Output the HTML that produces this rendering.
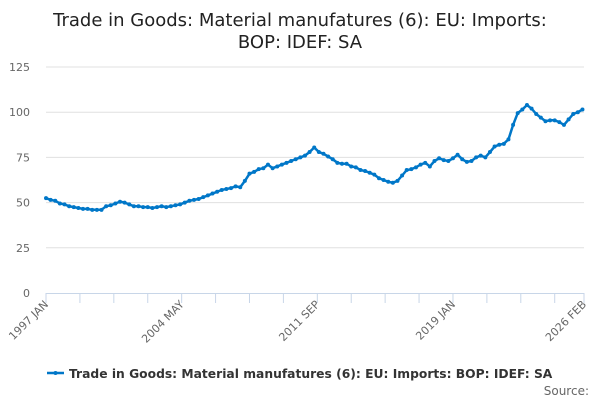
<!DOCTYPE html>
<html><head><meta charset="utf-8"><style>
body{margin:0;background:#fff;font-family:"Liberation Sans","DejaVu Sans",sans-serif}
svg text{font-family:"DejaVu Sans","Liberation Sans",sans-serif}
</style></head><body>
<svg id="chart" width="600" height="400">
<text x="300" y="26" text-anchor="middle" font-size="18" fill="#222">Trade in Goods: Material manufatures (6): EU: Imports:</text>
<text x="300" y="48" text-anchor="middle" font-size="18" fill="#222">BOP: IDEF: SA</text>
<g id="grid"></g><g id="xaxis"></g><g id="series"></g>
<g>
<line x1="47" y1="373" x2="64" y2="373" stroke="#0077c8" stroke-width="2.5"/>
<circle cx="55.5" cy="373" r="2" fill="#0077c8"/>
<text x="69" y="378" font-size="12.3" font-weight="bold" fill="#333">Trade in Goods: Material manufatures (6): EU: Imports: BOP: IDEF: SA</text>
</g>
<text x="589" y="395" text-anchor="end" font-size="12" fill="#666">Source:</text>
</svg>
<script>
const yTicks=[0,25,50,75,100,125];
const xLabels=["1997 JAN","2004 MAY","2011 SEP","2019 JAN","2026 FEB"];
const xLabelMonths=[0,88,176,264,349];
const values=[52.5,51.5,51,49.5, 49,48,47.5,47, 46.5,46.5,46,46, 46,48,48.5,49.5, 50.5,50,49,48,
48,47.5,47.5,47, 47.5,48,47.5,48, 48.5,49,50,51, 51.5,52,53,54, 55,56,57,57.5,
58,59,58.5,62, 66,67,68.5,69, 71,69,70,71, 72,73,74,75, 76,78,80.5,78,
77,75.5,74,72, 71.5,71.5,70,69.5, 68,67.5,66.5,65.5, 63.5,62.5,61.5,61, 62,65,68,68.5,
69.5,71,72,70, 73,74.5,73.5,73, 74.5,76.5,74,72.5, 73,75,76,75, 78,81,82,82.5,
85,93,99.5,101.5, 104,102,99,97, 95,95.5,95.5,94.5, 93,96,99,100, 101.5];
const months=values.map((v,i)=>i*3);
const X0=46,X1=584,Y0=293,Y1=67;
const sx=m=>X0+(X1-X0)*m/349, sy=v=>Y0-(Y0-Y1)*v/125;
const NS="http://www.w3.org/2000/svg";
function mk(t,a,p){const e=document.createElementNS(NS,t);for(const k in a)e.setAttribute(k,a[k]);p.appendChild(e);return e;}
const grid=document.getElementById('grid');
yTicks.forEach(v=>{
 if(v>0){const l=mk('line',{x1:X0,x2:X1,y1:sy(v),y2:sy(v),stroke:'#e0e0e0','stroke-width':1},grid);
 
 }
 const t=mk('text',{x:30,y:sy(v)+4,'text-anchor':'end','font-size':11,fill:'#666'},grid);t.textContent=v;
 
 
});
const xa=document.getElementById('xaxis');
const ax=mk('line',{x1:X0,x2:X1,y1:Y0+0.5,y2:Y0+0.5,stroke:'#c8d6e8','stroke-width':1},xa);


const tickMonths=[];for(let m=0;m<=330;m+=22)tickMonths.push(m);tickMonths.push(349);
tickMonths.forEach(m=>{const t=mk('line',{x1:sx(m),x2:sx(m),y1:Y0,y2:Y0+10,stroke:'#c8d6e8'},xa);
 
 });
xLabels.forEach((s,i)=>{const x=sx(xLabelMonths[i]);
 const t=mk('text',{x:x+3,y:Y0+12,'text-anchor':'end','font-size':11,fill:'#666',transform:`rotate(-45 ${x+3} ${Y0+12})`},xa);
 t.textContent=s;
 
 });
const ser=document.getElementById('series');
const p=mk('path',{d:values.map((v,i)=>(i?'L':'M')+sx(months[i]).toFixed(1)+' '+sy(v).toFixed(1)).join(' '),fill:'none',stroke:'#0077c8','stroke-width':2.5},ser);


values.forEach((v,i)=>{const c=mk('circle',{cx:sx(months[i]),cy:sy(v),r:2,fill:'#0077c8'},ser);
 
 });
</script>
</body></html>
